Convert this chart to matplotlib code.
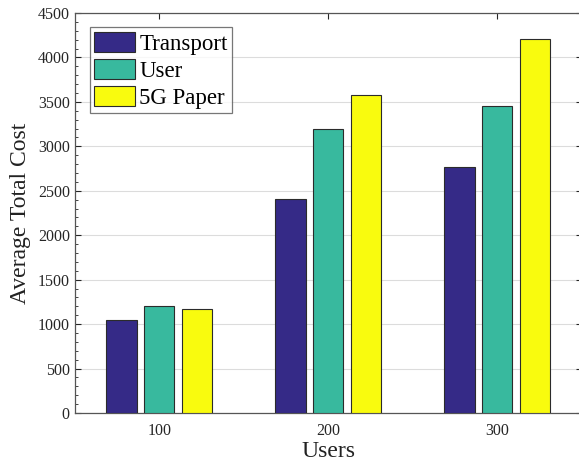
import numpy as np
import matplotlib.pyplot as plt
from matplotlib.ticker import MultipleLocator

# data
users = [100, 200, 300]
transport = [1045, 2410, 2765]
user = [1205, 3190, 3450]
paper_5g = [1170, 3575, 4207]

series = [("Transport", transport, "#352a87"),
          ("User", user, "#38b99e"),
          ("5G Paper", paper_5g, "#f9fb0e")]

plt.rcParams['font.family'] = ['Liberation Serif', 'DejaVu Serif']

fig = plt.figure(figsize=(5.79, 4.65), dpi=100)
ax = fig.add_axes([74.7 / 579, 1 - 413 / 465, 507 / 579, 400 / 465])

x = np.array(users)
offsets = [-22.2, 0, 22.2]
for (name, vals, col), off in zip(series, offsets):
    ax.bar(x + off, vals, width=18, color=col, edgecolor="#2b2b2b",
           linewidth=0.8, label=name, zorder=3)

ax.set_xlim(50, 350)
ax.set_ylim(0, 4500)
ax.set_xticks(users)
ax.yaxis.set_major_locator(MultipleLocator(500))
ax.yaxis.set_minor_locator(MultipleLocator(100))
ax.grid(axis="y", color="#dcdcdc", linewidth=0.8, zorder=0)

ax.tick_params(which="both", direction="in", top=True, right=True,
               colors="#262626", labelsize=11.5, labelcolor="#262626")
ax.tick_params(which="major", length=4)
ax.tick_params(which="minor", length=2)
ax.tick_params(axis="x", which="minor", bottom=False, top=False)
ax.tick_params(axis="x", pad=7.5)
for s in ax.spines.values():
    s.set_color("#555555")
    s.set_linewidth(0.9)
ax.spines["right"].set_visible(False)

ax.set_xlabel("Users", fontsize=17, color="#222222", labelpad=1)
ax.set_ylabel("Average Total Cost", fontsize=17, color="#222222", labelpad=5)

leg = ax.legend(loc="upper left", bbox_to_anchor=(0.03, 0.965), fontsize=16.5,
                frameon=True, fancybox=False, edgecolor="#555555",
                handlelength=1.75, handleheight=1.0, handletextpad=0.2,
                labelspacing=0.17, borderpad=0.2, borderaxespad=0)
leg.get_frame().set_linewidth(0.9)

fig.savefig("out.png", dpi=100)
